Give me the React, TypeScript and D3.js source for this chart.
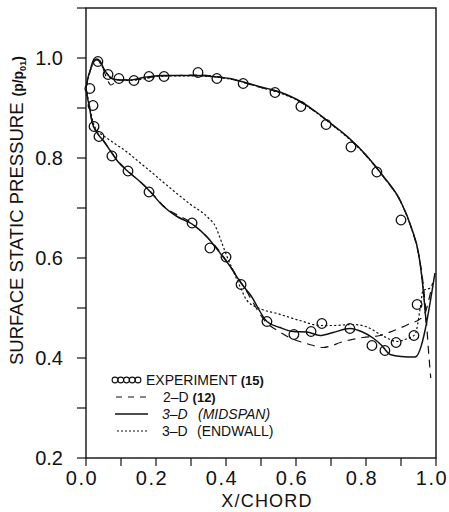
import React from "react";
import * as d3 from "d3";

// ---- data (x/chord, p/p01) ----
const expUpper: [number, number][] = [
  [0.034, 0.993], [0.063, 0.967], [0.094, 0.959], [0.137, 0.955], [0.18, 0.963],
  [0.223, 0.963], [0.32, 0.971], [0.374, 0.959], [0.449, 0.949], [0.54, 0.931],
  [0.614, 0.903], [0.686, 0.867], [0.757, 0.822], [0.831, 0.772], [0.9, 0.676],
  [0.946, 0.507],
];
const expLower: [number, number][] = [
  [0.011, 0.939], [0.02, 0.905], [0.023, 0.863], [0.037, 0.843], [0.074, 0.804],
  [0.12, 0.774], [0.18, 0.732], [0.303, 0.67], [0.354, 0.62], [0.4, 0.602],
  [0.443, 0.547], [0.517, 0.473], [0.594, 0.447], [0.643, 0.453], [0.674, 0.469],
  [0.754, 0.459], [0.817, 0.425], [0.854, 0.415], [0.886, 0.431], [0.937, 0.445],
];

const midUpper: [number, number][] = [
  [0.0, 0.94], [0.003, 0.953], [0.012, 0.975], [0.02, 0.993], [0.03, 0.998],
  [0.04, 0.994], [0.05, 0.98], [0.062, 0.967], [0.077, 0.958], [0.1, 0.956],
  [0.126, 0.956], [0.163, 0.961], [0.22, 0.965], [0.277, 0.965], [0.317, 0.965],
  [0.363, 0.963], [0.411, 0.959], [0.46, 0.95], [0.5, 0.942], [0.55, 0.933],
  [0.6, 0.918], [0.65, 0.896], [0.7, 0.869], [0.75, 0.841], [0.8, 0.806],
  [0.85, 0.763], [0.9, 0.712], [0.93, 0.66], [0.95, 0.61], [0.96, 0.56],
  [0.967, 0.51], [0.972, 0.47],
];
const midLower: [number, number][] = [
  [0.0, 0.94], [0.003, 0.925], [0.009, 0.905], [0.017, 0.873], [0.031, 0.851],
  [0.049, 0.835], [0.069, 0.815], [0.091, 0.793], [0.12, 0.773], [0.154, 0.753],
  [0.183, 0.733], [0.22, 0.704], [0.26, 0.683], [0.303, 0.668], [0.346, 0.642],
  [0.374, 0.618], [0.411, 0.584], [0.446, 0.547], [0.469, 0.527], [0.517, 0.473],
  [0.554, 0.461], [0.591, 0.453], [0.631, 0.452], [0.669, 0.445], [0.706, 0.451],
  [0.754, 0.459], [0.79, 0.452], [0.82, 0.44], [0.845, 0.425], [0.869, 0.407],
  [0.9, 0.403], [0.94, 0.402], [0.997, 0.57],
];

const twoDUpper: [number, number][] = [
  [0.0, 0.94], [0.01, 0.97], [0.02, 0.99], [0.032, 0.996], [0.045, 0.985],
  [0.058, 0.962], [0.071, 0.946], [0.085, 0.952], [0.1, 0.956], [0.14, 0.957],
  [0.2, 0.963], [0.26, 0.965], [0.32, 0.966], [0.37, 0.963], [0.42, 0.957],
  [0.46, 0.949], [0.5, 0.941], [0.55, 0.932], [0.6, 0.917], [0.65, 0.895],
  [0.7, 0.868], [0.75, 0.84], [0.8, 0.805], [0.85, 0.762], [0.9, 0.711],
  [0.93, 0.659], [0.95, 0.608], [0.963, 0.55], [0.97, 0.5], [0.978, 0.42],
  [0.985, 0.36],
];
const twoDLower: [number, number][] = [
  [0.0, 0.94], [0.009, 0.905], [0.017, 0.874], [0.031, 0.852], [0.049, 0.836],
  [0.091, 0.794], [0.12, 0.774], [0.183, 0.734], [0.22, 0.705], [0.303, 0.669],
  [0.374, 0.62], [0.446, 0.548], [0.517, 0.47], [0.554, 0.452], [0.59, 0.438],
  [0.62, 0.431], [0.65, 0.425], [0.677, 0.421], [0.7, 0.424], [0.726, 0.431],
  [0.76, 0.437], [0.791, 0.441], [0.84, 0.445], [0.88, 0.455], [0.92, 0.467],
  [0.963, 0.483], [0.99, 0.55],
];

const endwallUpper: [number, number][] = [
  [0.0, 0.94], [0.012, 0.974], [0.03, 0.997], [0.05, 0.979], [0.077, 0.957],
  [0.126, 0.955], [0.22, 0.964], [0.317, 0.964], [0.411, 0.958], [0.5, 0.941],
  [0.6, 0.917], [0.7, 0.868], [0.8, 0.805], [0.85, 0.762], [0.9, 0.711],
  [0.93, 0.659], [0.95, 0.609], [0.96, 0.56], [0.97, 0.49],
];
const endwallLower: [number, number][] = [
  [0.0, 0.94], [0.01, 0.905], [0.02, 0.872], [0.035, 0.853], [0.049, 0.845],
  [0.08, 0.83], [0.117, 0.812], [0.15, 0.793], [0.183, 0.774], [0.22, 0.752],
  [0.249, 0.735], [0.297, 0.708], [0.35, 0.68], [0.37, 0.663], [0.383, 0.64],
  [0.4, 0.608], [0.42, 0.575], [0.44, 0.543], [0.46, 0.515], [0.5, 0.498],
  [0.546, 0.489], [0.611, 0.475], [0.669, 0.465], [0.706, 0.465], [0.763, 0.467],
  [0.803, 0.462], [0.846, 0.445], [0.889, 0.433], [0.915, 0.438], [0.94, 0.447],
  [0.955, 0.5], [0.963, 0.535], [0.99, 0.54],
];

const xTickLabels = [0, 0.2, 0.4, 0.6, 0.8, 1.0];
const yTickLabels = [0.2, 0.4, 0.6, 0.8, 1.0];

const FONT = "'Liberation Sans', Arial, Helvetica, sans-serif";

export default function App() {
  const W = 449, H = 512;
  const x = d3.scaleLinear().domain([0, 1]).range([86, 436]);
  const y = d3.scaleLinear().domain([0.2, 1.1]).range([458, 8]);
  const line = d3
    .line<[number, number]>()
    .x((d) => x(d[0]))
    .y((d) => y(d[1]))
    .curve(d3.curveMonotoneX);

  const minorX = d3.range(0, 1.0001, 0.1);
  const minorY = d3.range(0.2, 1.1001, 0.1);

  const ink = "#111";

  return (
    <svg
      width={W}
      height={H}
      style={{ position: "absolute", left: 0, top: 0, background: "#fff" }}
      fontFamily={FONT}
    >
      <defs>
        <clipPath id="plot">
          <rect x={x(0)} y={y(1.1)} width={x(1) - x(0)} height={y(0.2) - y(1.1)} />
        </clipPath>
      </defs>
      <rect x={0} y={0} width={W} height={H} fill="#fff" />

      {/* frame */}
      <rect
        x={x(0)}
        y={y(1.1)}
        width={x(1) - x(0)}
        height={y(0.2) - y(1.1)}
        fill="none"
        stroke={ink}
        strokeWidth={1.4}
      />

      {/* y ticks */}
      {minorY.map((v, i) => (
        <line key={"yt" + i} x1={x(0) - 9} x2={x(0)} y1={y(v)} y2={y(v)} stroke={ink} strokeWidth={1.2} />
      ))}
      {yTickLabels.map((v) => (
        <text
          key={"yl" + v}
          x={63}
          y={y(v)}
          dy="0.36em"
          textAnchor="end"
          fontSize={20}
          fill={ink}
        >
          {v.toFixed(1)}
        </text>
      ))}

      {/* x ticks */}
      {minorX.map((v, i) => (
        <line key={"xt" + i} x1={x(v)} x2={x(v)} y1={y(0.2)} y2={y(0.2) + 8} stroke={ink} strokeWidth={1.2} />
      ))}
      {xTickLabels.map((v) => (
        <text
          key={"xl" + v}
          x={x(v) - 4}
          y={485}
          textAnchor="middle"
          fontSize={20}
          letterSpacing={1.5}
          fill={ink}
        >
          {v.toFixed(1)}
        </text>
      ))}

      {/* axis titles */}
      <text x={267} y={507} textAnchor="middle" fontSize={18} letterSpacing={1.2} fill={ink}>
        X/CHORD
      </text>
      <text transform="translate(23,365) rotate(-90)" textAnchor="start" fontSize={18.5} fill={ink}>
        SURFACE STATIC PRESSURE
        <tspan dx={6} fontSize={14} fontWeight="bold">(p/p</tspan>
        <tspan fontSize={9} fontWeight="bold" dy={3}>01</tspan>
        <tspan fontSize={14} fontWeight="bold" dy={-3}>)</tspan>
      </text>

      {/* curves */}
      <g clipPath="url(#plot)" fill="none">
        <path d={line(twoDUpper) || ""} stroke={ink} strokeWidth={1.2} strokeDasharray="8,6" />
        <path d={line(twoDLower) || ""} stroke={ink} strokeWidth={1.2} strokeDasharray="8,6" />
        <path d={line(endwallUpper) || ""} stroke={ink} strokeWidth={1.2} strokeDasharray="2.2,2.2" />
        <path d={line(endwallLower) || ""} stroke={ink} strokeWidth={1.2} strokeDasharray="2.2,2.2" />
        <path d={line(midUpper) || ""} stroke={ink} strokeWidth={1.5} />
        <path d={line(midLower) || ""} stroke={ink} strokeWidth={1.5} />
      </g>

      {/* experiment */}
      {[...expUpper, ...expLower].map((d, i) => (
        <circle key={"c" + i} cx={x(d[0])} cy={y(d[1])} r={4.8} fill="none" stroke={ink} strokeWidth={1.3} />
      ))}

      {/* legend */}
      <g fill={ink}>
        {d3.range(5).map((i) => (
          <circle key={"lc" + i} cx={115 + i * 5.75} cy={380} r={2.9} fill="none" stroke={ink} strokeWidth={1.1} />
        ))}
        <text x={146} y={380} dy="0.36em" fontSize={14}>
          EXPERIMENT <tspan fontWeight="bold" fontSize={13}>(15)</tspan>
        </text>

        <line x1={116} x2={148} y1={397} y2={397} stroke={ink} strokeWidth={1.2} strokeDasharray="6,6" />
        <text x={163} y={397} dy="0.36em" fontSize={14}>
          2–D <tspan fontWeight="bold" fontSize={13}>(12)</tspan>
        </text>

        <line x1={115} x2={148} y1={414} y2={414} stroke={ink} strokeWidth={1.5} />
        <text x={162} y={414} dy="0.36em" fontSize={14} fontStyle="italic">
          3–D
        </text>
        <text x={198} y={414} dy="0.36em" fontSize={14} fontStyle="italic">
          (MIDSPAN)
        </text>

        <line x1={117} x2={148} y1={431} y2={431} stroke={ink} strokeWidth={1.1} strokeDasharray="2,2" />
        <text x={162} y={431} dy="0.36em" fontSize={14}>
          3–D
        </text>
        <text x={197} y={431} dy="0.36em" fontSize={14}>
          (ENDWALL)
        </text>
      </g>
    </svg>
  );
}
